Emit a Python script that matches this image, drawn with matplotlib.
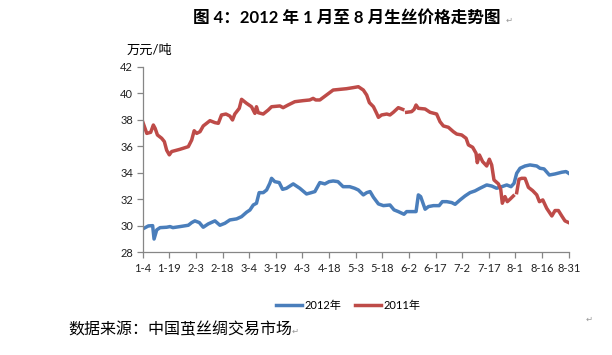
import numpy as np
import matplotlib
matplotlib.use("Agg")
import matplotlib.pyplot as plt

plt.rcParams['font.family'] = ['Lato', 'Noto Sans CJK SC', 'DejaVu Sans']

# x tick labels (every 15 days from 1-4 to 8-31)
tick_labels = ['1-4', '1-19', '2-3', '2-18', '3-4', '3-19', '4-3', '4-18', '5-3',
               '5-18', '6-2', '6-17', '7-2', '7-17', '8-1', '8-16', '8-31']

# 2012 price (days after Jan 4, 10k yuan/ton)
days_2012 = [0, 3.2, 5.6, 6.4, 7.9, 9.8, 13.5, 15.4, 17, 21, 25.7, 27.6, 29.4, 31.9, 34.1,
             36.9, 40.7, 43.5, 46.3, 49.1, 52.9, 55.7, 58.5, 60.4, 62.3, 64.1, 65.6, 67.9,
             69.8, 71.6, 72.6, 74.4, 76.9, 78.8, 81, 84.8, 88.5, 92.3, 95, 97, 99.8, 102.6,
             105, 107.3, 110, 112.9, 116.6, 119.4, 121.5, 124.3, 126.2, 128.1, 130, 132.8,
             135.6, 139.3, 141.6, 144, 147.2, 148.7, 151.5, 154, 155.3, 156.6, 159.1, 161,
             163.8, 167, 168.8, 171.3, 174.1, 176, 178.8, 181.6, 184.4, 187.2, 190, 193.8,
             196.6, 199.4, 202.3, 205.1, 207.5, 209.2, 210.7, 212.6, 215.4, 218.2, 222,
             223.8, 226.1, 229.1, 232.3, 236.1, 238.5, 240]
price_2012 = [29.76, 29.99, 30.01, 29.0, 29.69, 29.86, 29.89, 29.94, 29.86, 29.94, 30.04,
              30.24, 30.37, 30.24, 29.89, 30.14, 30.37, 30.04, 30.19, 30.44, 30.52, 30.69,
              31.02, 31.19, 31.57, 31.7, 32.5, 32.5, 32.7, 33.2, 33.58, 33.33, 33.26, 32.75,
              32.83, 33.16, 32.83, 32.4, 32.5, 32.58, 33.26, 33.16, 33.33, 33.38, 33.33,
              32.95, 32.95, 32.83, 32.7, 32.33, 32.5, 32.58, 32.15, 31.65, 31.52, 31.57,
              31.2, 31.07, 30.87, 31.07, 31.07, 31.07, 32.33, 32.2, 31.25, 31.45, 31.52,
              31.52, 31.82, 31.82, 31.75, 31.62, 31.95, 32.25, 32.5, 32.63, 32.83, 33.08,
              33.0, 32.83, 32.95, 33.08, 32.95, 33.2, 33.96, 34.34, 34.51, 34.59, 34.51,
              34.34, 34.29, 33.83, 33.91, 34.04, 34.09, 33.96]

# 2011 price (same calendar days), NaN = gap in the line
days_2011 = [0, 2.3, 4.5, 6, 7, 8.3, 10.7, 12.2, 13.5, 15, 16.3, 21, 25.7, 27.6, 29, 30.4,
             32.3, 34.1, 37.9, 40.7, 42.6, 44.4, 46.9, 49.1, 50.6, 51.9, 54.4, 55.7, 58.5,
             61.3, 63.2, 64.1, 65.1, 67.9, 70.7, 72.6, 77.3, 79.1, 81.9, 85.7, 90.4, 94.1,
             96, 97.5, 99.8, 103.5, 107.3, 111, 114.8, 118.5, 121.5, 124.3, 126.2, 127.7,
             130, 131.8, 132.8, 134.6, 137.5, 139.3, 141.2, 144, 146.5, 147.6, 148.7, 151.5,
             152.9, 154, 155.3, 159.1, 161.9, 165.6, 167.5, 169.4, 172.2, 175, 176.9, 179.7,
             182.2, 183.5, 185.9, 187.8, 188.5, 189.7, 191.5, 193.8, 195.3, 196.6, 197.9,
             200.4, 201.7, 202.6, 204.1, 205.4, 206.9, 208.8, 209.8, 210.7, 212, 213.5,
             215.4, 217.3, 219.7, 222, 223.5, 225.4, 227.6, 230.5, 232.3, 234.2, 236.1,
             237.9, 240]
price_2011 = [37.85, 36.97, 37.05, 37.6, 37.35, 36.85, 36.6, 36.35, 35.7, 35.35, 35.6,
              35.77, 35.97, 36.47, 37.17, 36.97, 37.1, 37.53, 37.93, 37.78, 37.73, 38.36,
              38.43, 38.28, 37.98, 38.43, 38.86, 39.54, 39.24, 38.98, 38.48, 38.98, 38.53,
              38.43, 38.73, 38.98, 39.04, 38.91, 39.11, 39.36, 39.44, 39.49, 39.61, 39.49,
              39.49, 39.86, 40.24, 40.29, 40.34, 40.42, 40.49, 40.24, 39.86, 39.29, 38.98,
              38.48, 38.18, 38.36, 38.43, 38.36, 38.56, 38.91, 38.78, np.nan, 38.56, 38.61,
              38.78, 39.11, 38.86, 38.81, 38.56, 38.43, 37.85, 37.53, 37.43, 37.1, 36.92,
              36.85, 36.6, 36.1, 35.92, 35.47, 34.76, 35.34, 34.84, 34.51, 35.02, 34.59,
              33.46, 33.16, 32.75, 31.7, 32.2, 31.82, 32.0, 32.25, np.nan, 32.5, 33.51,
              33.58, 33.58, 32.9, 32.65, 32.33, 31.82, 31.95, 31.32, 30.74, 31.15, 31.15,
              30.74, 30.37, 30.24]

blue = '#4A7EBB'
red = '#BE4B48'
axis_gray = '#868686'

fig = plt.figure(figsize=(6.12, 3.55), dpi=100)
ax = fig.add_axes([142.7 / 612, 1 - 252.3 / 355, (568.7 - 142.7) / 612, (252.3 - 66.7) / 355])

ax.plot(days_2012, price_2012, color=blue, lw=2.5, label='2012年', solid_joinstyle='round')
ax.plot(days_2011, price_2011, color=red, lw=2.5, label='2011年', solid_joinstyle='round')

ax.set_xlim(0, 240)
ax.set_ylim(28, 42)
ax.set_xticks(np.arange(0, 241, 15))
ax.set_xticklabels(tick_labels)
ax.set_yticks(np.arange(28, 43, 2))

for s in ['top', 'right']:
    ax.spines[s].set_visible(False)
for s in ['left', 'bottom']:
    ax.spines[s].set_color(axis_gray)
    ax.spines[s].set_linewidth(0.9)
ax.tick_params(axis='both', colors=axis_gray, length=4, width=0.9, labelsize=8,
               labelcolor='#222222')
ax.tick_params(axis='x', pad=3.5)
ax.tick_params(axis='y', pad=3)

fig.text(127 / 612, 1 - 50 / 355, '万元/吨', fontsize=9.5, va='center', ha='left')

fig.text(347 / 612, 1 - 18 / 355, '图 4：2012 年 1 月至 8 月生丝价格走势图', fontsize=12,
         fontweight='bold', ha='center', va='center')
fig.text(506 / 612, 1 - 20 / 355, '↵', fontsize=6, color='#999999', va='center',
         family='DejaVu Sans')

ax.legend(loc='center', bbox_to_anchor=(348 / 612, 1 - 305 / 355),
          bbox_transform=fig.transFigure, ncol=2, frameon=False, fontsize=8,
          handlelength=2.4, handletextpad=0.2, columnspacing=1.2)

fig.text(68 / 612, 1 - 330 / 355, '数据来源：中国茧丝绸交易市场', fontsize=11.5,
         ha='left', va='center', family=['Noto Sans CJK SC'])
fig.text(292 / 612, 1 - 331 / 355, '↵', fontsize=6, color='#999999', va='center',
         family='DejaVu Sans')
fig.text(586 / 612, 1 - 319 / 355, '↵', fontsize=6, color='#999999', va='center',
         family='DejaVu Sans')

fig.savefig('out.png', dpi=100)
